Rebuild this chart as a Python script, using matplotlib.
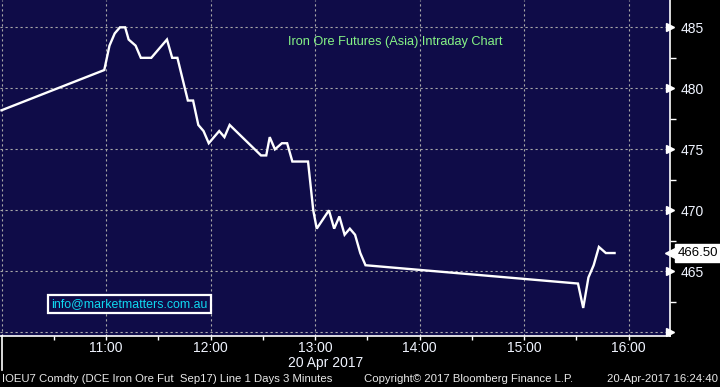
import numpy as np
import matplotlib
matplotlib.use("Agg")
import matplotlib.pyplot as plt
from matplotlib.ticker import FixedLocator, FuncFormatter

# 3 minute bars, Sydney time, 20 Apr 2017
times = ["10:00", "10:59", "11:02", "11:05", "11:08", "11:11", "11:13", "11:17",
         "11:20", "11:26", "11:29", "11:35", "11:38", "11:41", "11:47", "11:50",
         "11:53", "11:56", "11:59", "12:05", "12:08", "12:11", "12:29", "12:32",
         "12:34", "12:37", "12:41", "12:44", "12:47", "12:56", "12:59", "13:01",
         "13:08", "13:11", "13:14", "13:17", "13:20", "13:23", "13:26", "13:29",
         "15:31", "15:34", "15:37", "15:40", "15:43", "15:47", "15:52"]
prices = [478.2, 481.5, 483.5, 484.5, 485.0, 485.0, 484.0, 483.5,
          482.5, 482.5, 483.0, 484.0, 482.5, 482.5, 479.0, 479.0,
          477.0, 476.5, 475.5, 476.5, 476.0, 477.0, 474.5, 474.5,
          476.0, 475.0, 475.5, 475.5, 474.0, 474.0, 470.0, 468.5,
          470.0, 468.5, 469.5, 468.0, 468.5, 468.0, 466.5, 465.5,
          464.0, 462.0, 464.5, 465.5, 467.0, 466.5, 466.5]
last_price = 466.50
hour_ticks = [11, 12, 13, 14, 15, 16]
y_ticks = [460, 465, 470, 475, 480, 485]
y_labels = ["", "465", "470", "475", "480", "485"]

title = "Iron Ore Futures (Asia) Intraday Chart"
footer_left = "IOEU7 Comdty (DCE Iron Ore Fut  Sep17) Line 1 Days 3 Minutes"
footer_mid = "Copyright\u00a9 2017 Bloomberg Finance L.P."
footer_right = "20-Apr-2017 16:24:40"

plt.rcParams['font.family'] = ['Liberation Sans', 'DejaVu Sans']

x = [int(t.split(":")[0]) + int(t.split(":")[1]) / 60 for t in times]

bg = "#0f0c48"
W, H = 720, 387
fig = plt.figure(figsize=(W / 100, H / 100), dpi=100, facecolor="black")
ax = fig.add_axes([0, 1 - 336 / H, 670 / W, 336 / H])
ax.set_facecolor(bg)

ax.plot(x, prices, color="white", lw=1.7, solid_joinstyle="miter", zorder=3)

ax.set_xlim(10 - 1.5 / 104.5, 10 - 1.5 / 104.5 + 670 / 104.5)
ax.set_ylim(459.7, 487.24)

grid_kw = dict(color="#a8a8a8", lw=0.8, linestyle=(0, (2, 2.5)), zorder=1)
for h in [10] + hour_ticks:
    ax.axvline(h, **grid_kw)
for v in y_ticks:
    ax.axhline(v, **grid_kw)

# x axis
ax.xaxis.set_major_locator(FixedLocator(hour_ticks))
ax.xaxis.set_minor_locator(FixedLocator(np.arange(10.5, 16.5, 1.0)))
ax.xaxis.set_major_formatter(FuncFormatter(lambda v, p: "%d:00" % v))
ax.tick_params(axis="x", which="both", colors="white", length=3, width=1,
               direction="out", labelsize=10, pad=0.5, labelcolor="#f0f4ff")

# y axis on the right
ax.yaxis.tick_right()
ax.yaxis.set_major_locator(FixedLocator(y_ticks))
ax.yaxis.set_major_formatter(FuncFormatter(lambda v, p: y_labels[y_ticks.index(int(round(v)))]))
ax.yaxis.set_minor_locator(FixedLocator(np.arange(462.5, 487, 5)))
ax.tick_params(axis="y", which="major", length=0, pad=8, labelsize=10, labelcolor="#f0f4ff")
ax.tick_params(axis="y", which="minor", colors="white", length=4, width=1)
ax.plot([1.0] * len(y_ticks), y_ticks, linestyle="none", marker=">", ms=5.5,
        color="white", transform=ax.get_yaxis_transform(), clip_on=False, zorder=5)

for s in ["top", "left"]:
    ax.spines[s].set_visible(False)
ax.spines["right"].set_color("white")
ax.spines["right"].set_linewidth(1.2)
ax.spines["bottom"].set_color("white")
ax.spines["bottom"].set_linewidth(1.2)

# last price tag
ax.plot([1.0], [last_price], marker="<", ms=7, color="white",
        transform=ax.get_yaxis_transform(), clip_on=False, zorder=6)
ax.text(1.012, last_price, "%.2f" % last_price, transform=ax.get_yaxis_transform(),
        ha="left", va="center", fontsize=9.5, color="black", zorder=7,
        bbox=dict(boxstyle="square,pad=0.22", fc="white", ec="white"))

ax.text(395 / 670, 0.875, title, transform=ax.transAxes, ha="center", va="center",
        fontsize=9.2, color="#86f486")
ax.text(129.5 / 670, 0.095, "info@marketmatters.com.au", transform=ax.transAxes,
        ha="center", va="center", fontsize=8.9, color="#10d8f0",
        bbox=dict(boxstyle="square,pad=0.25", fc=bg, ec="white", lw=1.6))

# date below axis
fig.text(326 / W, 1 - 363 / H, "20 Apr 2017", ha="center", va="center",
         fontsize=10, color="#f0f4ff")
fig.add_artist(plt.Line2D([2 / W, 2 / W], [1 - 336 / H, 1 - 370 / H],
                          color="white", lw=1.2))

# status bar
fig.text(2 / W, 1 - 379 / H, footer_left, ha="left", va="center", fontsize=8.2, color="#e8e8e8")
fig.text(364 / W, 1 - 379 / H, footer_mid, ha="left", va="center", fontsize=8.2, color="#e8e8e8")
fig.text(718 / W, 1 - 379 / H, footer_right, ha="right", va="center", fontsize=8.2, color="#e8e8e8")

fig.savefig("out.png", dpi=100, facecolor="black")
